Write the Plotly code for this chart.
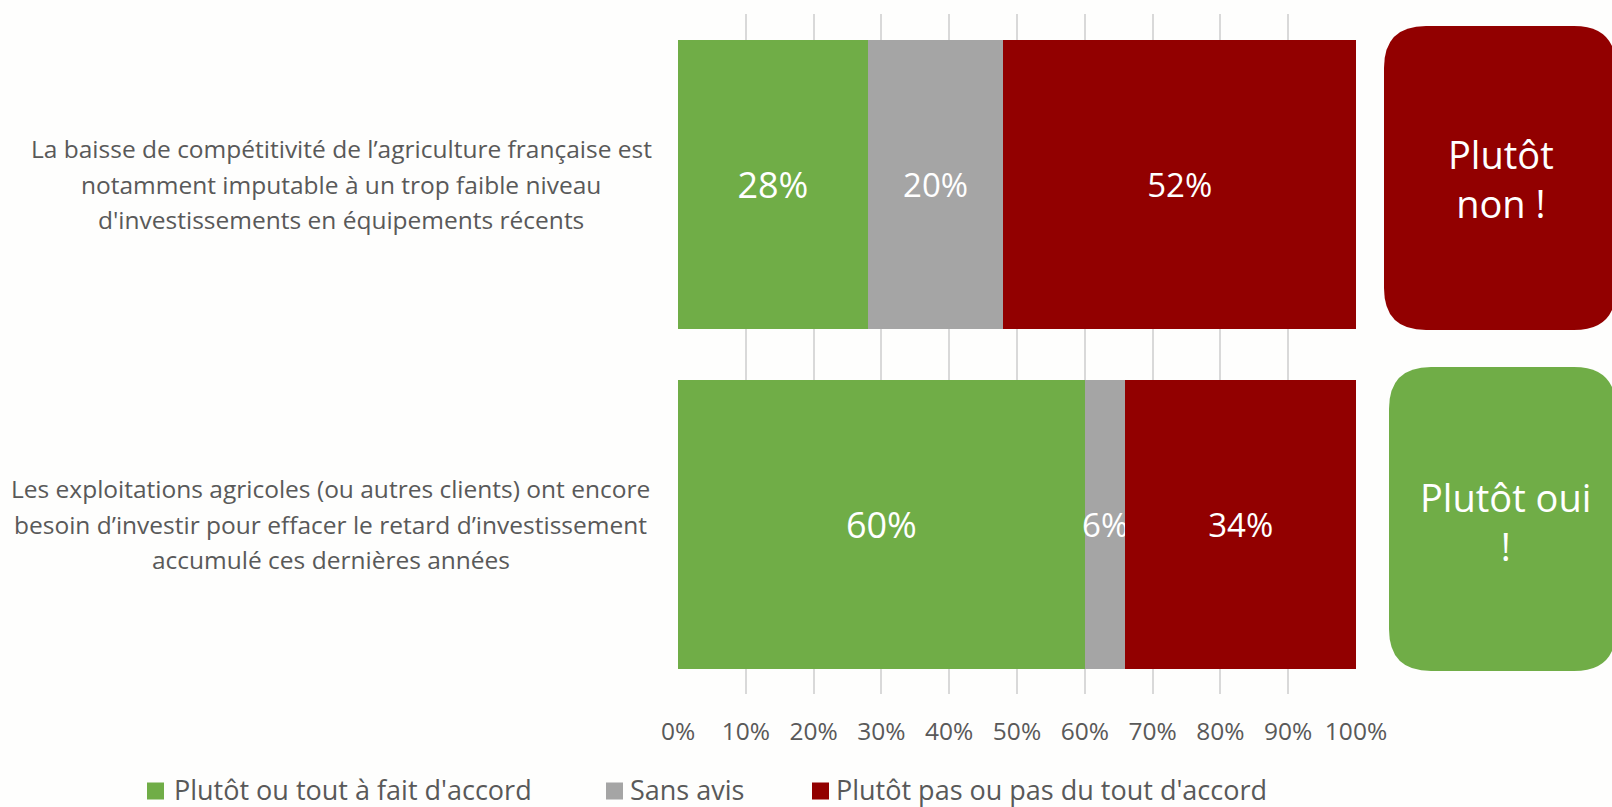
import plotly.graph_objects as go

# ---------------- data ----------------
categories = [
    "La baisse de compétitivité de l’agriculture française est<br>notamment imputable à un trop faible niveau<br>d'investissements en équipements récents",
    "Les exploitations agricoles (ou autres clients) ont encore<br>besoin d’investir pour effacer le retard d’investissement<br>accumulé ces dernières années",
]
series_names = ["Plutôt ou tout à fait d'accord", "Sans avis", "Plutôt pas ou pas du tout d'accord"]
agree = [28, 60]
neutral = [20, 6]
disagree = [52, 34]
tick_values = [0, 10, 20, 30, 40, 50, 60, 70, 80, 90, 100]
tick_labels = ["0%", "10%", "20%", "30%", "40%", "50%", "60%", "70%", "80%", "90%", "100%"]
verdicts = ["Plutôt<br>non !", "Plutôt oui<br>!"]

# ---------------- style ----------------
GREEN = "#70AD47"
GRAY = "#A5A5A5"
RED = "#920000"
TEXT = "#595959"
BG = "#FEFEFD"
FONT = "Open Sans"

W, H = 1612, 807
L, R, T, B = 678, 1356, 14, 694  # plot area in pixels


def px_x(px):
    return (px - L) / (R - L)


def px_y(py):
    return (B - py) / (B - T)


series = [agree, neutral, disagree]
colors = [GREEN, GRAY, RED]
label_sizes = [36, 33, 33]

fig = go.Figure()
ids = list(range(len(categories)))
for name, vals, col, fs in zip(series_names, series, colors, label_sizes):
    fig.add_trace(go.Bar(
        y=ids, x=vals, orientation="h", name=name,
        marker=dict(color=col, line=dict(width=0)),
        text=[f"{v}%" for v in vals],
        textposition="inside", insidetextanchor="middle",
        constraintext="none", textangle=0,
        textfont=dict(color="white", size=fs, family=FONT),
        showlegend=False, hoverinfo="skip",
    ))

# category labels (one annotation per line for Excel-like line spacing)
label_centers_px = [341, 331]
line_gap = 35.5
for i, cat in enumerate(categories):
    lines = cat.split("<br>")
    n = len(lines)
    for j, ln in enumerate(lines):
        fig.add_annotation(
            x=px_x(label_centers_px[i]), xref="paper", xanchor="center",
            y=ids[i], yref="y", yanchor="middle",
            yshift=-(j - (n - 1) / 2) * line_gap,
            text=ln, showarrow=False,
            font=dict(family=FONT, size=24.5, color=TEXT),
        )

# verdict boxes (rounded rectangles)
def rounded(x0, y0, x1, y1, r):
    X = lambda v: px_x(v)
    Y = lambda v: px_y(v)
    return (f"M {X(x0 + r)},{Y(y0)} L {X(x1 - r)},{Y(y0)} Q {X(x1)},{Y(y0)} {X(x1)},{Y(y0 + r)} "
            f"L {X(x1)},{Y(y1 - r)} Q {X(x1)},{Y(y1)} {X(x1 - r)},{Y(y1)} "
            f"L {X(x0 + r)},{Y(y1)} Q {X(x0)},{Y(y1)} {X(x0)},{Y(y1 - r)} "
            f"L {X(x0)},{Y(y0 + r)} Q {X(x0)},{Y(y0)} {X(x0 + r)},{Y(y0)} Z")

boxes = [((1384, 26, 1616, 330), RED, (1501, 178)), ((1389, 367, 1616, 671), GREEN, (1505, 521))]
for (bx, col, (cx, cy)), txt in zip(boxes, verdicts):
    fig.add_shape(type="path", path=rounded(*bx, 42), xref="paper", yref="paper",
                  fillcolor=col, line=dict(width=0), layer="above")
    fig.add_annotation(x=px_x(cx), y=px_y(cy), xref="paper", yref="paper",
                       xanchor="center", yanchor="middle", text=txt, showarrow=False,
                       align="center", font=dict(family=FONT, size=38, color="white"))

# manual legend
legend_items = [(147, 173), (606, 629), (812, 835)]
ly = 789
for (sx, tx), name, col in zip(legend_items, series_names, colors):
    fig.add_shape(type="rect", xref="paper", yref="paper",
                  x0=px_x(sx), x1=px_x(sx + 17), y0=px_y(ly + 10.5), y1=px_y(ly - 6.5),
                  fillcolor=col, line=dict(width=0))
    fig.add_annotation(x=px_x(tx), y=px_y(ly), xref="paper", yref="paper",
                       xanchor="left", yanchor="middle", text=name, showarrow=False,
                       borderpad=0,
                       font=dict(family=FONT, size=27, color=TEXT))

fig.update_layout(
    width=W, height=H,
    barmode="stack", bargap=0.15,
    margin=dict(l=L, r=W - R, t=T, b=H - B, pad=0),
    paper_bgcolor=BG, plot_bgcolor=BG,
    font=dict(family=FONT, color=TEXT),
    xaxis=dict(range=[0, 100], tickvals=tick_values, ticktext=tick_labels,
               showgrid=True, gridcolor="#D9D9D9", gridwidth=1.5,
               zeroline=False, showline=False, ticks="",
               ticklabelstandoff=20,
               tickfont=dict(family=FONT, size=24.5, color=TEXT), fixedrange=True),
    yaxis=dict(type="linear", range=[1.5, -0.5], showticklabels=False,
               showgrid=False, zeroline=False, showline=False, fixedrange=True),
)

fig.write_html("out.html", config={"displayModeBar": False},
               post_script="document.body.style.margin='0';document.body.style.overflow='hidden';")
